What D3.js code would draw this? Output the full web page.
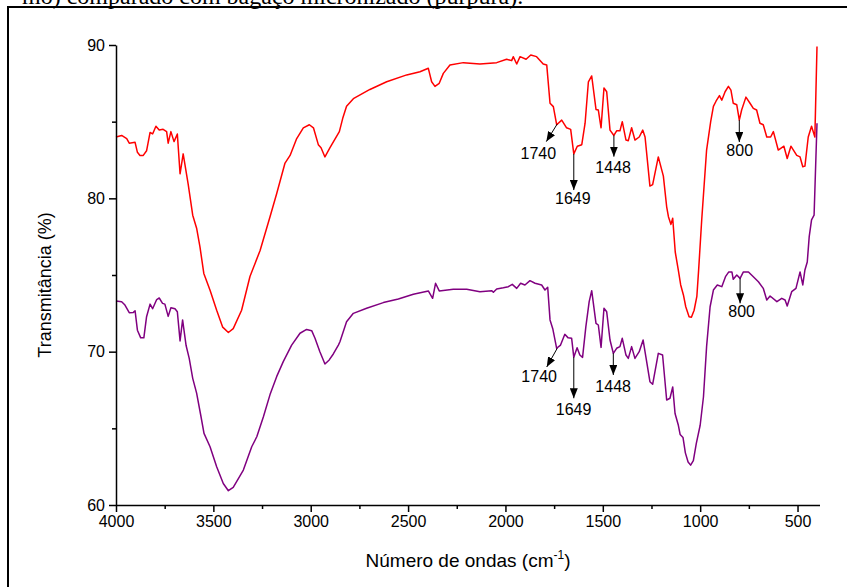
<!DOCTYPE html>
<html>
<head>
<meta charset="utf-8">
<script src="https://cdn.jsdelivr.net/npm/d3@7"></script>
<style>
    html, body { margin: 0; padding: 0; background: #fff; }
    svg { display: block; }
</style>
</head>
<body>
<div id="chart"></div>
<script>
// espectro do bagaço (vermelho) - [número de ondas, transmitância]
const redSpectrum = [
    [4000, 84.0], [3971, 84.1], [3945, 83.9], [3932, 83.6], [3902, 83.65], [3890, 83.0], [3877, 82.8],
    [3860, 82.8], [3843, 83.1], [3825, 84.3], [3812, 84.2], [3795, 84.7], [3778, 84.45], [3758, 84.5],
    [3740, 84.35], [3732, 83.6], [3718, 84.35], [3702, 83.7], [3685, 84.2], [3671, 81.6], [3655, 82.9],
    [3629, 80.9], [3606, 78.9], [3586, 78.05], [3569, 76.85], [3549, 75.1], [3517, 74.0], [3483, 72.7],
    [3452, 71.6], [3423, 71.25], [3398, 71.5], [3355, 72.7], [3312, 74.9], [3260, 76.6], [3209, 78.8],
    [3175, 80.3], [3132, 82.3], [3106, 82.8], [3072, 83.9], [3038, 84.6], [3007, 84.8], [2986, 84.6],
    [2961, 83.5], [2947, 83.3], [2927, 82.7], [2901, 83.3], [2853, 84.35], [2836, 85.2], [2816, 86.0],
    [2781, 86.5], [2696, 87.1], [2610, 87.6], [2507, 88.05], [2439, 88.26], [2396, 88.48], [2379, 87.6],
    [2362, 87.3], [2340, 87.5], [2319, 88.15], [2285, 88.7], [2216, 88.85], [2131, 88.76], [2045, 88.85],
    [1994, 89.07], [1968, 88.98], [1960, 89.24], [1942, 88.76], [1925, 89.24], [1894, 89.07], [1870, 89.35],
    [1840, 89.24], [1806, 88.76], [1788, 88.7], [1771, 86.2], [1754, 85.98], [1737, 84.8], [1711, 85.1],
    [1686, 84.6], [1665, 84.5], [1649, 82.9], [1631, 83.4], [1608, 83.5], [1591, 84.9], [1574, 87.6],
    [1557, 87.98], [1535, 85.8], [1523, 85.76], [1509, 84.6], [1494, 87.2], [1480, 86.95], [1463, 84.45],
    [1443, 84.1], [1429, 84.4], [1412, 84.4], [1400, 85.0], [1381, 83.8], [1369, 83.76], [1352, 84.6],
    [1335, 83.8], [1313, 84.0], [1295, 84.45], [1283, 84.0], [1258, 80.8], [1244, 80.9], [1215, 82.7],
    [1189, 81.45], [1172, 79.45], [1163, 78.8], [1150, 78.3], [1141, 78.7], [1128, 76.5], [1112, 75.3],
    [1100, 74.35], [1086, 73.7], [1074, 72.93], [1057, 72.28], [1045, 72.24], [1031, 72.7], [1017, 73.6],
    [1008, 75.3], [992, 78.6], [967, 83.15], [946, 85.0], [932, 86.0], [918, 86.35], [901, 86.7],
    [889, 86.4], [872, 86.95], [855, 87.3], [842, 87.06], [830, 86.2], [812, 86.1], [799, 85.1],
    [787, 85.76], [765, 86.6], [744, 86.2], [727, 85.87], [710, 85.76], [693, 84.9], [676, 84.8],
    [658, 84.0], [638, 84.0], [624, 84.35], [599, 83.15], [570, 83.4], [553, 82.6], [534, 83.4],
    [504, 82.8], [487, 82.7], [473, 82.06], [462, 82.1], [445, 84.0], [428, 84.7], [411, 84.0], [400, 89.9],
];

// espectro do bagaço micronizado (púrpura)
const purpleSpectrum = [
    [4000, 73.3], [3971, 73.26], [3954, 73.04], [3932, 72.54], [3911, 72.56], [3902, 72.67], [3890, 71.4],
    [3873, 70.9], [3857, 70.9], [3843, 72.28], [3825, 73.1], [3812, 72.8], [3791, 73.4], [3778, 73.5],
    [3761, 73.15], [3749, 73.1], [3732, 72.3], [3718, 72.87], [3697, 72.8], [3685, 72.6], [3671, 70.7],
    [3658, 72.07], [3640, 70.4], [3624, 69.56], [3606, 68.26], [3586, 67.3], [3565, 65.87], [3548, 64.67],
    [3517, 63.8], [3483, 62.5], [3449, 61.4], [3423, 60.93], [3398, 61.15], [3346, 62.28], [3303, 63.8],
    [3277, 64.45], [3243, 65.76], [3209, 67.2], [3175, 68.37], [3141, 69.35], [3098, 70.43], [3055, 71.2],
    [3021, 71.45], [2995, 71.37], [2978, 70.87], [2953, 70.0], [2927, 69.2], [2905, 69.46], [2884, 69.85],
    [2858, 70.43], [2850, 70.65], [2816, 71.95], [2781, 72.5], [2713, 72.83], [2627, 73.2], [2550, 73.43],
    [2473, 73.74], [2396, 73.96], [2374, 73.48], [2359, 74.46], [2340, 73.96], [2268, 74.07], [2199, 74.07],
    [2131, 73.91], [2070, 73.98], [2062, 73.87], [2045, 74.09], [2011, 74.17], [1985, 74.24], [1965, 74.39],
    [1942, 74.13], [1922, 74.46], [1900, 74.35], [1874, 74.63], [1848, 74.46], [1814, 74.35], [1797, 74.02],
    [1783, 74.2], [1771, 72.07], [1757, 71.5], [1737, 70.22], [1717, 70.43], [1695, 71.13], [1678, 70.9],
    [1660, 70.87], [1649, 69.63], [1632, 70.26], [1618, 69.78], [1604, 69.63], [1587, 71.63], [1570, 73.26],
    [1557, 73.98], [1535, 71.85], [1523, 71.74], [1509, 70.28], [1494, 72.83], [1480, 72.6], [1463, 70.76],
    [1446, 69.89], [1429, 70.22], [1412, 70.33], [1400, 70.87], [1381, 69.78], [1369, 69.56], [1352, 70.33],
    [1335, 69.56], [1313, 70.0], [1293, 70.76], [1279, 69.67], [1258, 68.04], [1244, 67.87], [1215, 69.89],
    [1193, 69.78], [1172, 66.85], [1155, 66.96], [1141, 67.7], [1129, 65.97], [1112, 65.2], [1103, 64.6],
    [1088, 64.4], [1076, 63.4], [1062, 62.8], [1049, 62.6], [1035, 62.9], [1020, 64.0], [1000, 65.2],
    [983, 67.06], [967, 70.33], [949, 72.93], [932, 74.02], [912, 74.35], [889, 74.24], [870, 74.89],
    [853, 75.2], [837, 75.2], [830, 74.72], [812, 75.0], [795, 74.78], [778, 75.2], [752, 75.2],
    [727, 74.89], [701, 74.56], [676, 74.13], [658, 73.37], [641, 73.63], [606, 73.26], [581, 73.48],
    [564, 73.37], [553, 72.98], [530, 73.91], [508, 74.13], [487, 75.2], [473, 74.35], [462, 75.33],
    [450, 75.85], [440, 77.5], [428, 78.6], [415, 78.9], [400, 84.9],
];

const xMajorTicks = [4000, 3500, 3000, 2500, 2000, 1500, 1000, 500];
const xMinorTicks = [3750, 3250, 2750, 2250, 1750, 1250, 750];
const yMajorTicks = [60, 70, 80, 90];
const yMinorTicks = [65, 75, 85];

// setas: origem na curva, ponta e posição do rótulo (em unidades dos eixos)
const peakLabels = ["1740", "1649", "1448", "800", "1740", "1649", "1448", "800"];
const arrowFrom = [[1734, 84.85], [1649, 82.9], [1443, 84.1], [799, 85.1], [1734, 70.22], [1649, 69.63], [1446, 69.89], [795, 74.78]];
const arrowTo = [[1790, 83.7], [1649, 80.54], [1443, 82.72], [799, 83.67], [1788, 69.0], [1649, 66.96], [1446, 68.48], [795, 73.15]];
const labelAt = [[1831, 82.96], [1654, 80.02], [1447, 82.0], [797, 83.15], [1827, 68.39], [1650, 66.25], [1447, 67.74], [787, 72.6]];

const width = 847;
const height = 587;
const plotLeft = 116;
const plotRight = 817;
const plotTop = 45;
const plotBottom = 505;
const sansFont = "'Liberation Sans', Arial, sans-serif";

const svg = d3.select("#chart")
    .append("svg")
    .attr("width", width)
    .attr("height", height);

// recorte do texto da legenda da figura e moldura
svg.append("text")
    .attr("x", 22)
    .attr("y", 4)
    .attr("font-family", "'Liberation Serif', 'Times New Roman', serif")
    .attr("font-size", 24)
    .attr("fill", "#000")
    .text("mo) comparado com bagaço micronizado (púrpura).");

svg.append("rect")
    .attr("x", 8)
    .attr("y", 7)
    .attr("width", width + 20)
    .attr("height", height + 20)
    .attr("fill", "none")
    .attr("stroke", "#000")
    .attr("stroke-width", 2);

const x = d3.scaleLinear().domain([4000, 400]).range([plotLeft, plotRight]);
const y = d3.scaleLinear().domain([60, 90]).range([plotBottom, plotTop]);

svg.append("defs")
    .append("marker")
    .attr("id", "arrow")
    .attr("markerUnits", "userSpaceOnUse")
    .attr("markerWidth", 10)
    .attr("markerHeight", 8)
    .attr("refX", 10)
    .attr("refY", 4)
    .attr("orient", "auto")
    .append("path")
    .attr("d", "M0,0 L10,4 L0,8 Z")
    .attr("fill", "#000");

const line = d3.line()
    .x((d) => x(d[0]))
    .y((d) => y(d[1]));

svg.append("path")
    .datum(redSpectrum)
    .attr("fill", "none")
    .attr("stroke", "#ff0000")
    .attr("stroke-width", 1.5)
    .attr("stroke-linejoin", "round")
    .attr("d", line);

svg.append("path")
    .datum(purpleSpectrum)
    .attr("fill", "none")
    .attr("stroke", "#800080")
    .attr("stroke-width", 1.5)
    .attr("stroke-linejoin", "round")
    .attr("d", line);

// eixos
svg.append("g")
    .attr("transform", `translate(0, ${plotBottom})`)
    .call(d3.axisBottom(x).tickValues(xMajorTicks).tickFormat(d3.format("d")).tickSize(7).tickSizeOuter(0).tickPadding(4))
    .call((g) => g.select(".domain").attr("d", `M${plotLeft},0.5H${plotRight + 3}`));
svg.append("g")
    .attr("transform", `translate(0, ${plotBottom})`)
    .call(d3.axisBottom(x).tickValues(xMinorTicks).tickSize(4).tickFormat(""))
    .call((g) => g.select(".domain").remove());

svg.append("g")
    .attr("transform", `translate(${plotLeft}, 0)`)
    .call(d3.axisLeft(y).tickValues(yMajorTicks).tickFormat(d3.format("d")).tickSize(7).tickSizeOuter(0).tickPadding(4));
svg.append("g")
    .attr("transform", `translate(${plotLeft}, 0)`)
    .call(d3.axisLeft(y).tickValues(yMinorTicks).tickSize(4).tickFormat(""))
    .call((g) => g.select(".domain").remove());

svg.selectAll(".domain, .tick line")
    .attr("stroke", "#000")
    .attr("stroke-width", 1.5);
svg.selectAll(".tick text")
    .attr("font-family", sansFont)
    .attr("font-size", 16)
    .attr("fill", "#000");

// rótulos dos eixos
svg.append("text")
    .attr("transform", `translate(51, ${(plotTop + plotBottom) / 2 + 10}) rotate(-90)`)
    .attr("text-anchor", "middle")
    .attr("font-family", sansFont)
    .attr("font-size", 18)
    .text("Transmitância (%)");

const xTitle = svg.append("text")
    .attr("x", 468)
    .attr("y", 567)
    .attr("text-anchor", "middle")
    .attr("font-family", sansFont)
    .attr("font-size", 19);
xTitle.append("tspan").text("Número de ondas (cm");
xTitle.append("tspan").attr("dy", -8).attr("font-size", 12).text("-1");
xTitle.append("tspan").attr("dy", 8).text(")");

// setas das bandas
peakLabels.forEach((label, index) => {
    svg.append("line")
        .attr("x1", x(arrowFrom[index][0]))
        .attr("y1", y(arrowFrom[index][1]))
        .attr("x2", x(arrowTo[index][0]))
        .attr("y2", y(arrowTo[index][1]))
        .attr("stroke", "#000")
        .attr("stroke-width", 1)
        .attr("marker-end", "url(#arrow)");
    svg.append("text")
        .attr("x", x(labelAt[index][0]))
        .attr("y", y(labelAt[index][1]))
        .attr("dy", "0.35em")
        .attr("text-anchor", "middle")
        .attr("font-family", sansFont)
        .attr("font-size", 16)
        .attr("fill", "#000")
        .text(label);
});
</script>
</body>
</html>
